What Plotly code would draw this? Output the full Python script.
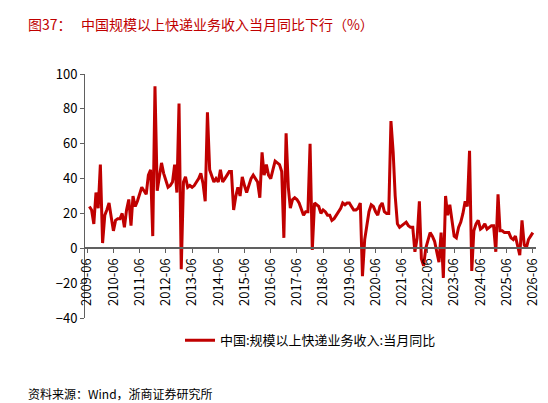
import plotly.graph_objects as go
import pandas as pd

vals_2009_2016 = [24,22,14,32,23,48,3,19,22,26,18,10,16,17,17,20,12,22,28,13,30,24,27,31,35,33,31,42,45,7,
                  93,33,40,49,43,39,35,36,38,48,32,83,-12,38,41,35,36,35,36,38,40,43,37,27,78,45,42,38,40,38,
                  45,38,40,42,44,44,22,30,35,30,41,36,32,36,40,42,40,38,29,55,42,48,42,40,45,50,49,48,44,6]
vals_2017_2020 = [66,35,23,28,29,28,26,23,19,21,21,60,-1,26,25,24,20,22,21,19,19,16,17,19,
                  21,23,26,25,26,26,24,22,22,23,26,-16,5,14,21,25,24,21,19,24,26,21,20,20]
vals_2021_2026 = [73,55,30,14,12,13,14,15,13,12,12,-2,6,27,-6,-10,0,4,9,7,4,-2,-8,9,
                  -17,30,19,25,15,7,6,12,15,20,27,24,56,-13,10,14,16,11,12,14,11,12,13,13,
                  -2,31,10,10,9,9,9,6,5,7,2,-4,16,2,0,5,7,9]
values = vals_2009_2016 + vals_2017_2020 + vals_2021_2026
dates = pd.date_range("2009-07-01", periods=len(values), freq="MS")
tick_years = list(range(2009, 2027))
tick_vals = [f"{y}-06-01" for y in tick_years]
tick_text = [f"{y}-06" for y in tick_years]

red = "#c00000"
fig = go.Figure()
fig.add_trace(go.Scatter(x=dates, y=values, mode="lines", line=dict(color=red, width=3),
                         name="中国:规模以上快递业务收入:当月同比"))
fig.update_layout(
    width=548, height=403, margin=dict(l=77, r=20, t=66, b=93),
    plot_bgcolor="white", paper_bgcolor="white",
    font=dict(family="Noto Sans CJK SC", size=13, color="black"),
    showlegend=True,
    legend=dict(orientation="h", x=0.5, xanchor="center", y=-0.03, yanchor="top",
                font=dict(size=13)),
    xaxis=dict(range=["2009-05-01", "2026-07-15"], tickvals=tick_vals, ticktext=tick_text,
               tickangle=-90, anchor="free", position=40/140, showline=True,
               linecolor="#606060", linewidth=1.5, ticks="outside", ticklen=4,
               tickcolor="#606060", showgrid=False, zeroline=False, tickfont=dict(size=13)),
    yaxis=dict(range=[-40, 100], dtick=20, showline=True, linecolor="#606060", linewidth=1,
               ticks="outside", ticklen=4, tickcolor="#606060", showgrid=False,
               zeroline=False, tickfont=dict(size=13)),
)
fig.add_annotation(text="图37：   中国规模以上快递业务收入当月同比下行（%）", xref="paper", yref="paper",
                   x=-0.13, y=1.0, yshift=50, xanchor="left", yanchor="middle", showarrow=False,
                   font=dict(size=14, color=red))
fig.add_annotation(text="资料来源：Wind，浙商证券研究所", xref="paper", yref="paper",
                   x=-0.13, y=0, yshift=-75, xanchor="left", yanchor="middle", showarrow=False,
                   font=dict(size=12))
fig.write_html("out.html")
